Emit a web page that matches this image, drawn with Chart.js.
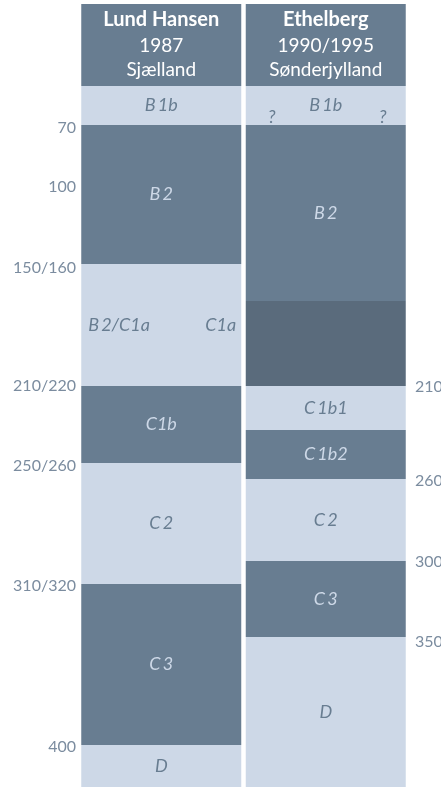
<!DOCTYPE html>
<html>
<head>
<meta charset="utf-8">
<script src="https://cdn.jsdelivr.net/npm/chart.js@4.4.1/dist/chart.umd.min.js"></script>
<style>
  html, body { margin: 0; padding: 0; background: #fff; }
  #wrap { width: 441px; height: 787px; }
</style>
</head>
<body>
<div id="wrap"><canvas id="chrono" width="441" height="787"></canvas></div>
<script>
// two chronologies side by side, schematic vertical axis (0 = top of B1b)
const columns = ['Lund Hansen', 'Ethelberg'];
const headers = [
    ['Lund Hansen', '1987', 'Sjælland'],
    ['Ethelberg', '1990/1995', 'Sønderjylland']
];
const headerSpan = [-8.2, 0];

const lundBounds = [0, 3.9, 17.8, 30.0, 37.7, 49.8, 65.9, 70.1];
const lundPhases = ['B\u20091b', 'B\u20092', ['B\u20092/C1a', 'C1a'], 'C1b', 'C\u20092', 'C\u20093', 'D'];
const lundShade = ['light', 'dark', 'light', 'dark', 'light', 'dark', 'light'];
const lundTickPos = [4.2, 10.1, 18.2, 30.0, 38.0, 50.0, 66.1];
const lundTickLabels = ['70', '100', '150/160', '210/220', '250/260', '310/320', '400'];

const ethBounds = [0, 3.9, 21.5, 30.0, 34.4, 39.3, 47.5, 55.1, 70.1];
const ethPhases = ['B\u20091b', 'B\u20092', '', 'C\u20091b1', 'C\u20091b2', 'C\u20092', 'C\u20093', 'D'];
const ethShade = ['light', 'dark', 'darker', 'light', 'dark', 'light', 'dark', 'light'];
const ethUncertain = [true, false, false, false, false, false, false, false];
const ethTickPos = [30.1, 39.5, 47.6, 55.6];
const ethTickLabels = ['210', '260', '300', '350'];

const colors = {
    header: '#687d91',
    dark: '#687d91',
    darker: '#5a6b7c',
    light: '#cdd8e7'
};
const textOnDark = '#cdd8e7';
const textOnLight = '#687d91';
const FONT = 'Lato';

const cols = [
    { bounds: lundBounds, phases: lundPhases, shade: lundShade, uncertain: [] },
    { bounds: ethBounds, phases: ethPhases, shade: ethShade, uncertain: ethUncertain }
];

// one dataset per shade, bars overlap in their column (grouped: false)
const shadeData = { header: [], dark: [], darker: [], light: [] };
cols.forEach((c, ci) => {
    shadeData.header.push({ x: columns[ci], y: headerSpan.slice() });
    c.shade.forEach((s, i) => {
        shadeData[s].push({ x: columns[ci], y: [c.bounds[i], c.bounds[i + 1]] });
    });
});

const datasets = Object.keys(shadeData).map(k => ({
    label: k,
    data: shadeData[k],
    backgroundColor: colors[k],
    borderWidth: 0,
    grouped: false,
    barPercentage: 160 / 164.5,
    categoryPercentage: 1
}));

const labelPlugin = {
    id: 'phaseLabels',
    afterDatasetsDraw(chart) {
        const ctx = chart.ctx;
        const xs = chart.scales.x;
        const ys = chart.scales.y;
        const half = xs.getPixelForValue(1) - xs.getPixelForValue(0);
        const barW = half * 160 / 164.5;
        ctx.save();
        cols.forEach((c, ci) => {
            const cx = xs.getPixelForValue(ci);
            const left = cx - barW / 2;
            const right = cx + barW / 2;

            // header
            ctx.fillStyle = '#ffffff';
            ctx.textAlign = 'center';
            ctx.textBaseline = 'middle';
            ctx.font = 'bold 20px ' + FONT;
            ctx.fillText(headers[ci][0], cx, 20);
            ctx.font = '19px ' + FONT;
            ctx.fillText(headers[ci][1], cx, 46);
            ctx.font = '19px ' + FONT;
            ctx.fillText(headers[ci][2], cx, 70);

            // phases
            ctx.font = 'italic 18px ' + FONT;
            c.phases.forEach((p, i) => {
                const y0 = ys.getPixelForValue(c.bounds[i]);
                const y1 = ys.getPixelForValue(c.bounds[i + 1]);
                const my = (y0 + y1) / 2;
                ctx.fillStyle = c.shade[i] === 'light' ? textOnLight : textOnDark;
                if (Array.isArray(p)) {
                    ctx.textAlign = 'left';
                    ctx.fillText(p[0], left + 7, my);
                    ctx.textAlign = 'right';
                    ctx.fillText(p[1], right - 5, my);
                } else if (p) {
                    ctx.textAlign = 'center';
                    ctx.fillText(p, cx, my);
                }
                if (c.uncertain[i]) {
                    ctx.textAlign = 'center';
                    ctx.fillText('?', left + 26, y1 - 8);
                    ctx.fillText('?', right - 23, y1 - 8);
                }
            });
        });
        ctx.restore();
    }
};

function noPad(scale, w) {
    scale.width = w;
    scale.paddingTop = 0;
    scale.paddingBottom = 0;
}

const tickFont = { family: FONT, size: 16 };

new Chart(document.getElementById('chrono'), {
    type: 'bar',
    data: { labels: columns, datasets: datasets },
    options: {
        responsive: false,
        animation: false,
        layout: { padding: 0 },
        plugins: { legend: { display: false }, tooltip: { enabled: false } },
        scales: {
            x: { display: false, offset: true },
            y: {
                position: 'left',
                reverse: true,
                min: -8.6,
                max: 70.1,
                border: { display: false },
                grid: { display: false, drawTicks: false },
                afterBuildTicks: s => { s.ticks = lundTickPos.map(v => ({ value: v })); },
                afterFit: s => noPad(s, 79),
                ticks: {
                    padding: 3,
                    color: '#7b8c9f',
                    font: tickFont,
                    callback: (v, i) => lundTickLabels[i]
                }
            },
            y2: {
                position: 'right',
                reverse: true,
                min: -8.6,
                max: 70.1,
                border: { display: false },
                grid: { display: false, drawTicks: false },
                afterBuildTicks: s => { s.ticks = ethTickPos.map(v => ({ value: v })); },
                afterFit: s => noPad(s, 33),
                ticks: {
                    padding: 7,
                    color: '#7b8c9f',
                    font: tickFont,
                    callback: (v, i) => ethTickLabels[i]
                }
            }
        }
    },
    plugins: [labelPlugin]
});
</script>
</body>
</html>
